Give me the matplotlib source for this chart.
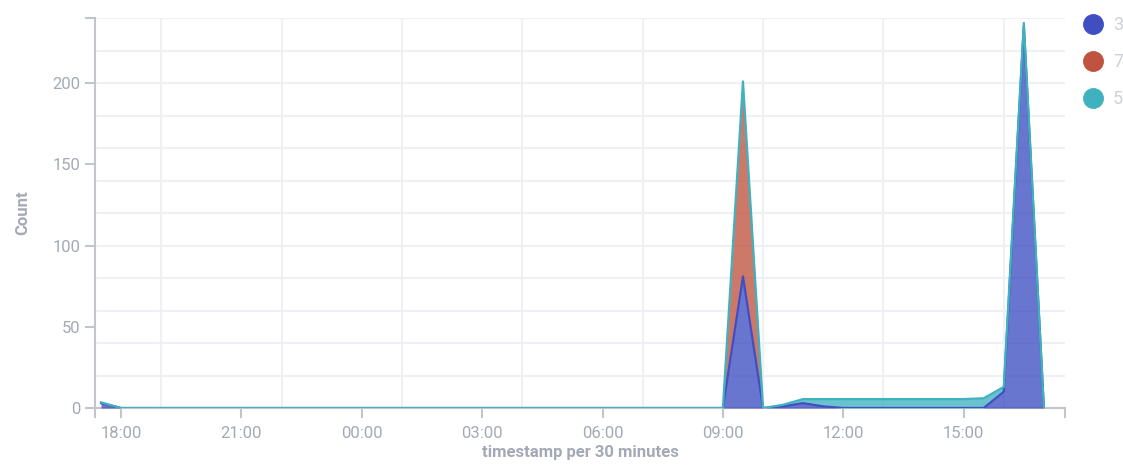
import numpy as np
import pandas as pd
import matplotlib
matplotlib.use("Agg")
import matplotlib.pyplot as plt
import matplotlib.dates as mdates
from matplotlib.lines import Line2D

plt.rcParams['font.family'] = ['Roboto', 'DejaVu Sans']

# 30-minute buckets, 17:30 -> 17:00 next day
times = pd.date_range('2023-01-01 17:30', periods=48, freq='30min')

# counts per bucket for each series (stack order: 3, 7, 5)
s3 = [3] + [0] * 31 + [81, 0, 1, 3, 1] + [0] * 7 + [0, 10, 235, 0]
s7 = [0] * 32 + [120] + [0] * 15
s5 = [0.5] + [0] * 33 + [1, 2.5, 4.5] + [5.5] * 7 + [6, 3, 2, 0]

labels = ['3', '7', '5']
colors = ['#3f4fc2', '#c0533f', '#3fb1bf']

fig = plt.figure(figsize=(11.23, 4.69), dpi=100)
ax = fig.add_axes([0.0846, 0.130, 0.864, 0.8316])

series = [np.array(s3, float), np.array(s7, float), np.array(s5, float)]
base = np.zeros(len(times))
for vals, col in zip(series, colors):
    top = base + vals
    ax.fill_between(times, base, top, color=col, alpha=0.78, linewidth=0, zorder=3)
    ax.plot(times, np.where(vals > 0, top, np.nan) if col == colors[1] else top,
            color=col, linewidth=1.6, zorder=4)
    base = top

grey = '#a3a9b6'
ax.set_ylim(0, 240)
ax.set_xlim(pd.Timestamp('2023-01-01 17:21'), pd.Timestamp('2023-01-02 17:32'))

ax.set_yticks([0, 50, 100, 150, 200])
ax.set_yticks([240], minor=True)
xt = pd.date_range('2023-01-01 18:00', periods=8, freq='3h')
ax.set_xticks(xt)
ax.set_xticks([pd.Timestamp('2023-01-01 17:21'), pd.Timestamp('2023-01-02 17:32')], minor=True)
ax.xaxis.set_major_formatter(mdates.DateFormatter('%H:%M'))

# light grid (horizontal every 20, vertical offset an hour from ticks)
for y in range(20, 241, 20):
    ax.axhline(y, color='#eef0f4', linewidth=1.5, zorder=1)
for t in pd.date_range('2023-01-01 19:00', periods=8, freq='3h'):
    ax.axvline(t, color='#eef0f4', linewidth=1.5, zorder=1)

for side in ['top', 'right']:
    ax.spines[side].set_visible(False)
for side in ['left', 'bottom']:
    ax.spines[side].set_color('#c2c6cc')
    ax.spines[side].set_linewidth(1.5)
ax.tick_params(which='both', colors='#c2c6cc', width=1.5, length=7, labelcolor=grey, labelsize=12)
ax.tick_params(axis='x', pad=6)

ax.set_ylabel('Count', color=grey, fontsize=12, fontweight='bold', labelpad=16)
ax.set_xlabel('timestamp per 30 minutes', color=grey, fontsize=12, fontweight='bold', labelpad=3)

handles = [Line2D([], [], marker='o', linestyle='', markersize=14, color=c) for c in colors]
leg = fig.legend(handles, labels, loc='upper left', bbox_to_anchor=(0.943, 1.0),
                 frameon=False, labelspacing=1.05, handletextpad=0.1, fontsize=13)
for t in leg.get_texts():
    t.set_color('#cdd1d8')

fig.savefig('out.png', dpi=100)
